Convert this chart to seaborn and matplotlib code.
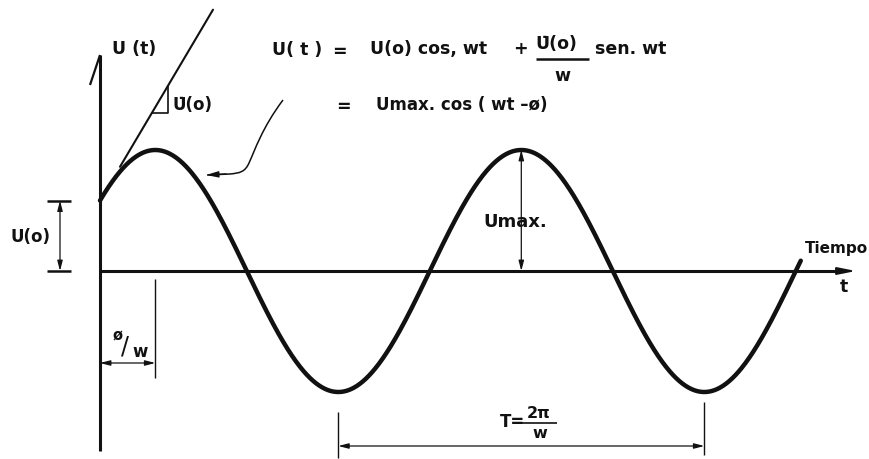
import numpy as np
import pandas as pd
import matplotlib
matplotlib.use("Agg")
import matplotlib.pyplot as plt
from matplotlib.path import Path
from matplotlib.patches import PathPatch
import seaborn as sns

# Free undamped oscillator: initial conditions and natural frequency
u0 = 0.58          # U(o), initial displacement
v0_over_w = 0.81   # U̇(o)/w, initial velocity over frequency
w = 1.0            # natural circular frequency
t_end = 12.03      # length of the drawn time record

umax = np.hypot(u0, v0_over_w)
phi = np.arctan2(v0_over_w, u0)
period = 2 * np.pi / w

t = np.linspace(0.0, t_end, 900)
u = u0 * np.cos(w * t) + v0_over_w * np.sin(w * t)
df = pd.DataFrame({"t": t, "U": u})

sns.set_theme(style="white")
plt.rcParams["font.family"] = ["DejaVu Sans"]

INK = "#111111"
W_PX, H_PX = 870, 459
X0_PX, AX_PX = 100.0, 271.0           # origin of the time axis on the sheet
SX = 366.0 / period                    # sheet units per unit of t
SY = 121.0 / umax                      # sheet units per unit of U


def P(xp, yp):
    """Sheet position (from top-left) to data coordinates."""
    return ((xp - X0_PX) / SX, (AX_PX - yp) / SY)


def X(tv):
    return X0_PX + tv * SX


def Y(uv):
    return AX_PX - uv * SY


fig = plt.figure(figsize=(W_PX / 100, H_PX / 100), dpi=100)
ax = fig.add_axes([0, 0, 1, 1])
ax.set_xlim(P(0, 0)[0], P(W_PX, 0)[0])
ax.set_ylim(P(0, H_PX)[1], P(0, 0)[1])
ax.set_axis_off()


def seg(pts, lw=1.0):
    xs, ys = zip(*[P(*p) for p in pts])
    ax.plot(xs, ys, color=INK, lw=lw, solid_capstyle="butt")


def dim(a, b, lw=0.9, hl=0.5, hw=0.13):
    ax.annotate("", xy=P(*b), xytext=P(*a),
                arrowprops=dict(arrowstyle=f"<|-|>,head_length={hl},head_width={hw}",
                                lw=lw, color=INK, shrinkA=0, shrinkB=0))


def label(xp, yp, s, size=12.5, ha="left", va="center", weight="bold", **kw):
    ax.text(*P(xp, yp), s, fontsize=size, ha=ha, va=va, color=INK,
            fontweight=weight, **kw)


# Axes of the sketch
seg([(X0_PX, 451), (X0_PX, 55)], lw=2.2)
seg([(X0_PX, 55), (90, 85)], lw=1.6)
seg([(X0_PX, AX_PX), (845, AX_PX)], lw=2.2)
ax.annotate("", xy=P(856, AX_PX), xytext=P(828, AX_PX),
            arrowprops=dict(arrowstyle="-|>,head_length=0.9,head_width=0.18",
                            lw=1.4, color=INK, shrinkA=0, shrinkB=0))

# Response curve
sns.lineplot(data=df, x="t", y="U", ax=ax, color=INK, lw=3.2, sort=False)

# Tangent at t = 0, slope U̇(o)
tt = np.array([(120 - X0_PX) / SX, (213 - X0_PX) / SX])
ax.plot(tt, u0 + v0_over_w * w * tt, color=INK, lw=1.5)
t1, t2 = (152 - X0_PX) / SX, (168 - X0_PX) / SX
ua, ub = u0 + v0_over_w * w * t1, u0 + v0_over_w * w * t2
ax.plot([t1, t2, t2], [ua, ua, ub], color=INK, lw=1.2)
label(173, 105, "U\u0307(o)", size=12)

# Axis labels
label(112, 49, "U (t)", size=12.5)
label(805, 248, "Tiempo", size=11)
label(840, 287, "t", size=12.5)

# Equations
label(272, 50, "U( t )", size=12.5)
label(332, 52, "=", size=12.5)
label(370, 49, "U(o) cos, wt", size=12.5)
label(513, 49, "+", size=12.5)
label(535, 44, "U\u0307(o)", size=12.5)
seg([(536, 59), (589, 59)], lw=1.8)
label(562, 76, "w", size=12.5, ha="center")
label(595, 49, "sen. wt", size=12.5)
label(336, 107, "=", size=12.5)
label(376, 105, "Umax. cos ( wt \u2013\u00f8)", size=12)

# Pointer from the equations to the curve
ax.add_patch(PathPatch(Path([P(283, 100), P(262, 128), P(255, 150), P(249, 163),
                              P(245, 172), P(240, 173), P(230, 174), P(207, 175)],
                             [Path.MOVETO, Path.CURVE4, Path.CURVE4, Path.CURVE4,
                              Path.CURVE4, Path.CURVE4, Path.CURVE4, Path.LINETO]),
                        fill=False, edgecolor=INK, lw=1.1))
ax.annotate("", xy=P(206, 175), xytext=P(226, 174),
            arrowprops=dict(arrowstyle="-|>,head_length=0.6,head_width=0.15",
                            lw=1.0, color=INK, shrinkA=0, shrinkB=0))

# U(o) dimension
xd = 60
seg([(47, Y(u0)), (71, Y(u0))], lw=1.8)
seg([(47, AX_PX), (71, AX_PX)], lw=1.8)
dim((xd, Y(u0)), (xd, AX_PX))
label(10, 237, "U(o)", size=12)

# Umax dimension at the second crest
tc = (phi + 2 * np.pi) / w
dim((X(tc), Y(umax)), (X(tc), AX_PX))
label(483, 222, "Umax.", size=13)

# Phase lag ø/w
tp = phi / w
seg([(X(tp), 279), (X(tp), 378)], lw=1.0)
dim((X0_PX, 363), (X(tp), 363))
label(112, 336, "\u00f8", size=10.5)
label(121, 346, "/", size=17, weight="normal")
label(132, 352, "w", size=12)

# Period between two troughs
ta, tb = (phi + np.pi) / w, (phi + 3 * np.pi) / w
seg([(X(ta), 412), (X(ta), 458)], lw=1.0)
seg([(X(tb), 402), (X(tb), 455)], lw=1.0)
dim((X(ta), 446), (X(tb), 446))
label(500, 422, "T=", size=12)
seg([(521, 423), (557, 423)], lw=1.2)
label(539, 413, "2\u03c0", size=11.5, ha="center")
label(540, 434, "w", size=11.5, ha="center")

fig.savefig("out.png", dpi=100, facecolor="white")
